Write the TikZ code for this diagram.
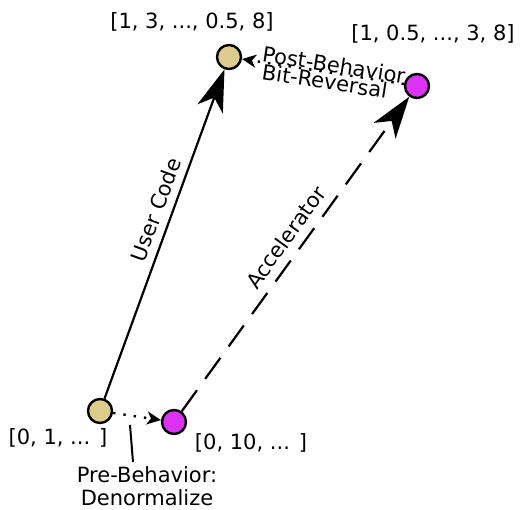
\documentclass[tikz,border=0pt]{standalone}
\usepackage{fontspec}
\setmainfont{DejaVu Sans}
\usetikzlibrary{arrows.meta}
\definecolor{tanfill}{RGB}{222,204,140}
\definecolor{magfill}{RGB}{220,50,245}
\begin{document}
\begin{tikzpicture}[x=1pt,y=-1pt,font=\fontsize{21}{23}\selectfont,
  pt/.style={circle,draw,line width=2.4pt,minimum size=24pt,inner sep=0pt},
  bigarr/.style={-{Stealth[length=42pt,width=27pt,inset=12pt]},line width=2.2pt},
  smallarr/.style={-{Stealth[length=14pt,width=13pt,inset=4pt]},line width=2.4pt,dash pattern=on 2.4pt off 8pt},
  lbl/.style={inner sep=0pt}]
\useasboundingbox (0,0) rectangle (524,510);
\node[pt,fill=tanfill] (a) at (100,411) {};
\node[pt,fill=magfill] (b) at (174,422) {};
\node[pt,fill=tanfill] (c) at (229,57) {};
\node[pt,fill=magfill] (d) at (417,86) {};
\draw[bigarr] (a) -- node[sloped,above=4pt,pos=0.557]{User Code} (c);
\draw[bigarr,dash pattern=on 26pt off 14pt] (b) -- node[sloped,above=5pt,pos=0.52]{Accelerator} (d);
\draw[smallarr] (d) -- (c);
\path (c) -- node[sloped,above=0pt,pos=0.56,lbl]{Post-Behavior} node[sloped,below=1pt,pos=0.52,lbl]{Bit-Reversal} (d);
\draw[smallarr] (a) -- (b);
\node (lc) at (192,22) {[1, 3, ..., 0.5, 8]};
\node (ld) at (433,34) {[1, 0.5, ..., 3, 8]};
\node (la) at (58,438) {[0, 1, ... ]};
\node (lb) at (251,443) {[0, 10, ... ]};
\coordinate (p1) at (130,425);
\node[align=center,inner sep=0pt,anchor=north] (pre) at (147,466) {Pre-Behavior:\\Denormalize};
\draw[line width=2pt] (p1) -- (133,462);
\end{tikzpicture}
\end{document}
